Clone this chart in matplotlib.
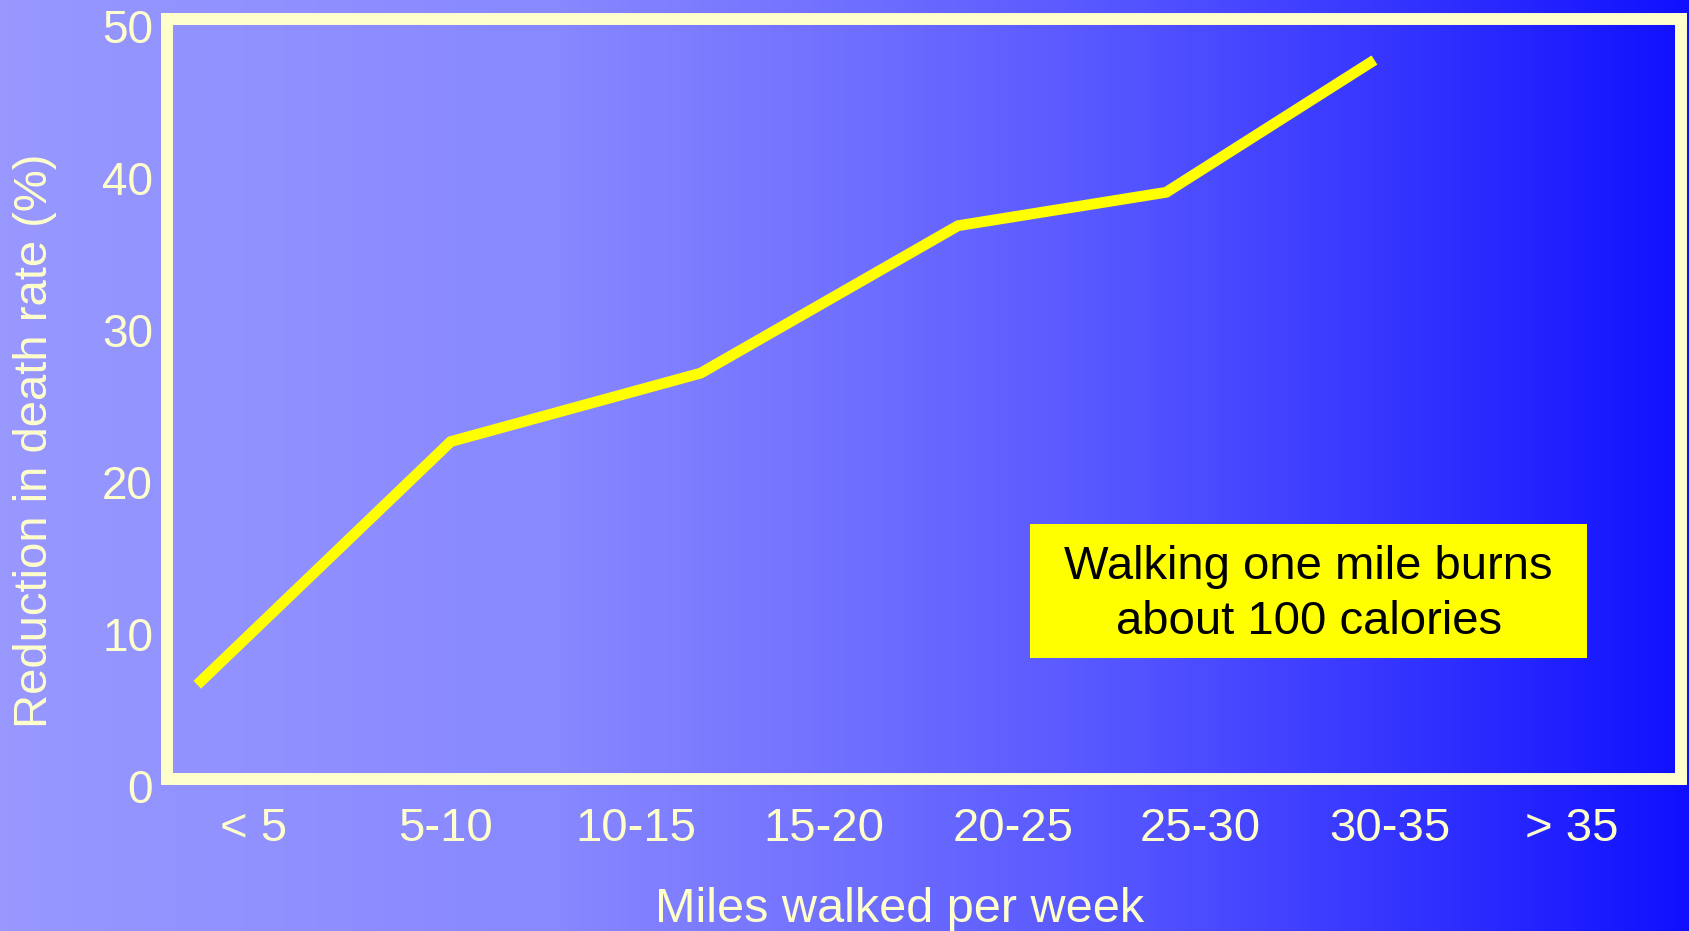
import numpy as np
import matplotlib.pyplot as plt
import matplotlib.transforms as mtransforms
from matplotlib.colors import LinearSegmentedColormap
from matplotlib.patches import Rectangle

# Données : réduction de la mortalité selon la distance marchée
categories = ['< 5', '5-10', '10-15', '15-20', '20-25', '25-30', '30-35', '> 35']
tick_pos = [2.3, 7.35, 12.4, 17.35, 22.35, 27.3, 32.3, 37.1]
miles = [0.8, 7.5, 14.1, 20.9, 26.4, 31.9]
reduction = [6.2, 22.2, 26.7, 36.4, 38.6, 47.3]
y_ticks = [0, 10, 20, 30, 40, 50]

cream = '#FFFFCC'
plt.rcParams['font.family'] = ['Liberation Sans', 'DejaVu Sans']

fig = plt.figure(figsize=(16.9, 9.31), dpi=100)

# fond dégradé horizontal
bg = fig.add_axes([0, 0, 1, 1], zorder=0)
grad = LinearSegmentedColormap.from_list('bg', [
    (0.0, (152/255, 152/255, 1.0)),
    (0.33, (136/255, 136/255, 1.0)),
    (0.5, (112/255, 112/255, 1.0)),
    (0.67, (84/255, 84/255, 1.0)),
    (0.85, (48/255, 48/255, 1.0)),
    (1.0, (16/255, 16/255, 1.0)),
])
bg.imshow(np.linspace(0, 1, 512)[None, :], aspect='auto', cmap=grad,
          extent=[0, 1, 0, 1])
bg.set_axis_off()

ax = fig.add_axes([0.0988, 0.1633, 0.8959, 0.8163], zorder=1)
ax.set_facecolor('none')

ax.plot(miles, reduction, color='#FFFF00', linewidth=7.8,
        solid_capstyle='butt', solid_joinstyle='miter', zorder=3)

ax.set_xlim(0, 40)
ax.set_ylim(0, 50)

for s in ax.spines.values():
    s.set_color(cream)
    s.set_linewidth(8.6)

ax.set_xticks(tick_pos)
ax.set_xticklabels(categories)
ax.set_yticks(y_ticks)
ax.tick_params(axis='both', length=0, colors=cream)
ax.tick_params(axis='x', labelsize=34, pad=20)
ax.tick_params(axis='y', labelsize=33, pad=10)

# étiquettes de l'axe Y un peu plus basses
shift = mtransforms.ScaledTranslation(0, -0.07, fig.dpi_scale_trans)
for lab in ax.get_yticklabels():
    lab.set_transform(lab.get_transform() + shift)

# encadré jaune
ax.add_patch(Rectangle((0.570, 0.1592), 0.368, 0.1763, transform=ax.transAxes,
                       facecolor='#FFFF00', edgecolor='none', zorder=4))
ax.text(0.754, 0.243, 'Walking one mile burns\nabout 100 calories',
        transform=ax.transAxes, ha='center', va='center', fontsize=34,
        color='black', linespacing=1.32, zorder=5)

fig.text(0.532, 0.0097, 'Miles walked per week', ha='center', va='baseline',
         fontsize=35, color=cream)
fig.text(0.0207, 0.526, 'Reduction in death rate (%)', ha='center', va='center',
         rotation=90, fontsize=34, color=cream)

plt.savefig('out.png', dpi=100)
